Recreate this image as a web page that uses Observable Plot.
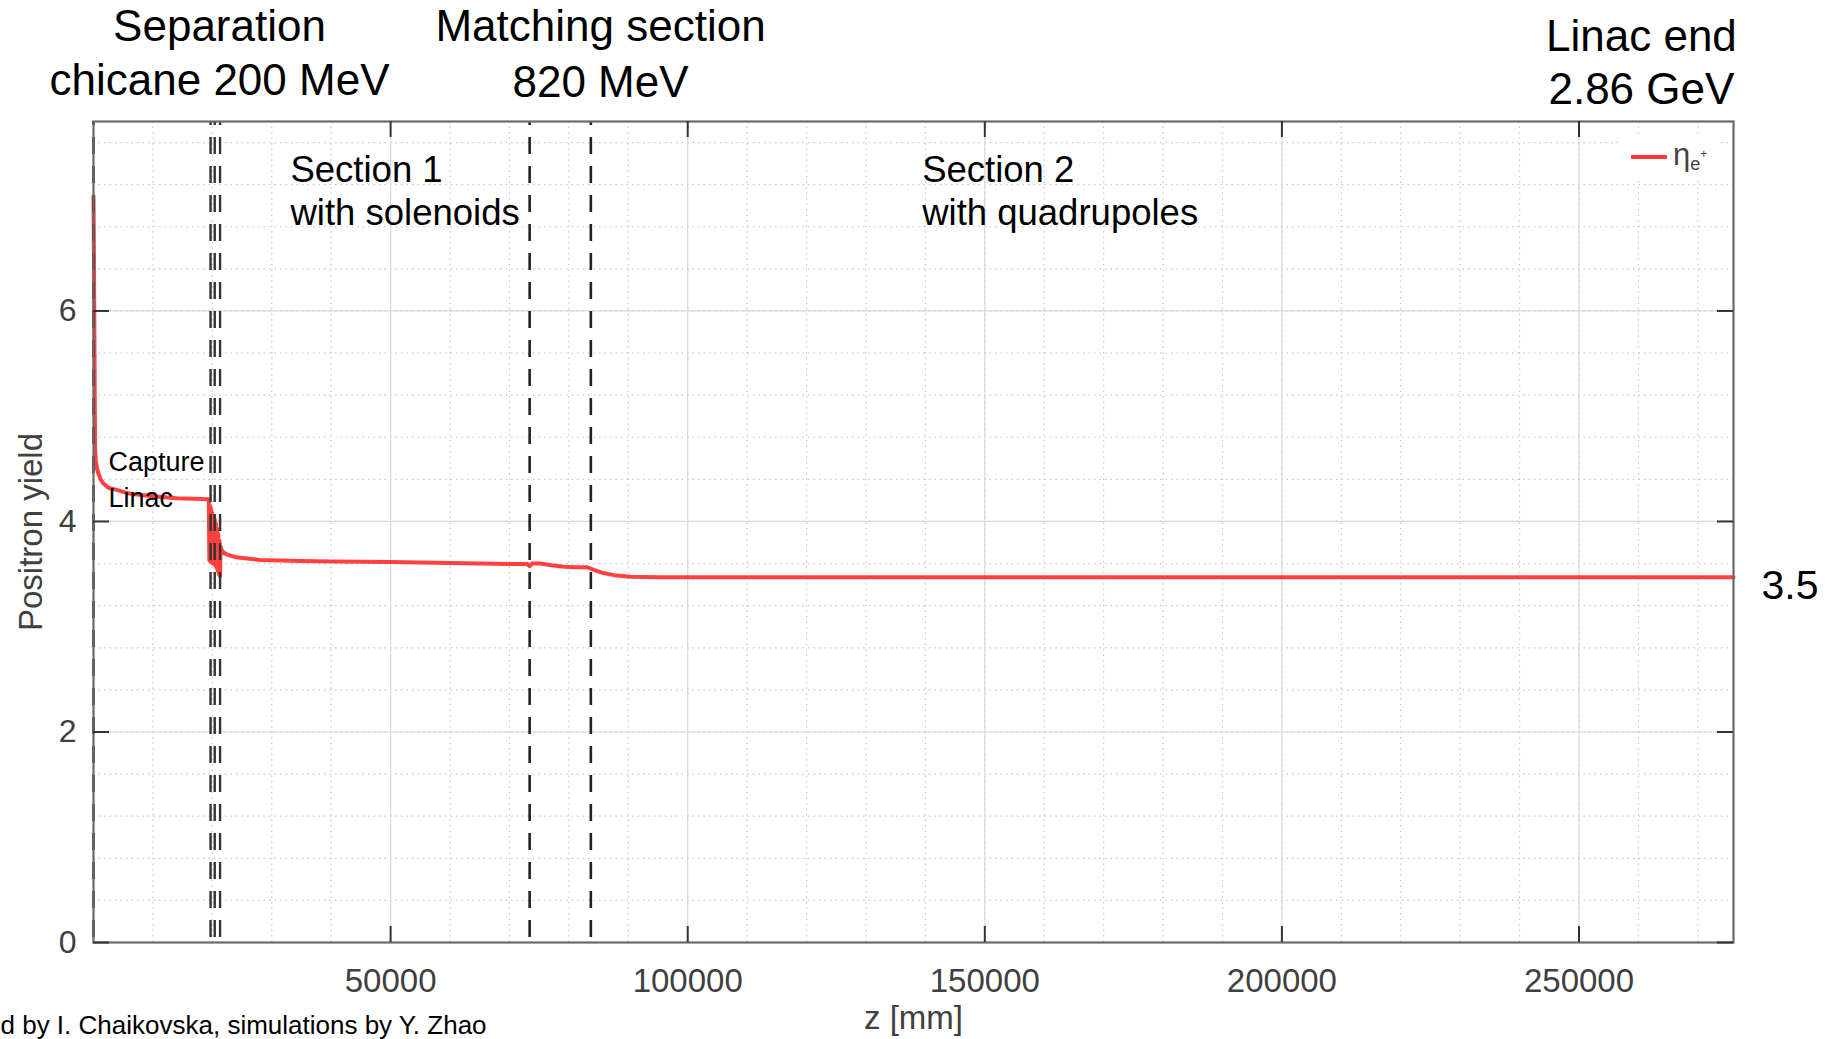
<!DOCTYPE html>
<html>
<head>
<meta charset="utf-8">
<script src="https://cdn.jsdelivr.net/npm/d3@7"></script>
<script src="https://cdn.jsdelivr.net/npm/@observablehq/plot@0.6"></script>
<style>
  html, body { margin: 0; padding: 0; background: #fff; overflow: hidden; }
  #chart svg { display: block; }
</style>
</head>
<body>
<div id="chart"></div>
<script>
// ---- data ----
const zPos = [0, 80, 150, 220, 270, 400, 600, 830, 1200, 1670, 2500, 3900, 6000, 8400, 11000, 14000, 17000, 19300,
  19400, 19500, 19600, 19700, 19800, 19900, 20000, 20100, 20200, 20300, 20400, 20500, 20600, 20700, 20800, 20900,
  21000, 21100, 21200, 21300, 21400, 21550, 21800, 22300, 23000, 24000, 25500, 28000, 35000, 40000, 50000, 60000,
  65000, 70000, 73000, 73400, 73800, 75200, 77000, 79200, 81000, 83100, 84200, 85800, 87600, 90400, 95000, 98800,
  120000, 150000, 200000, 250000, 276000];
const yieldVals = [7.09, 6.5, 5.8, 5.1, 4.68, 4.58, 4.5, 4.455, 4.40, 4.36, 4.32, 4.30, 4.265, 4.25, 4.235, 4.22, 4.215, 4.21,
  4.21, 3.63, 4.15, 3.62, 4.12, 3.61, 4.08, 3.60, 4.05, 3.60, 4.02, 3.58, 3.98, 3.56, 3.93, 3.53,
  3.88, 3.50, 3.82, 3.48, 3.76, 3.73, 3.71, 3.69, 3.675, 3.66, 3.65, 3.635, 3.625, 3.62, 3.615, 3.605,
  3.60, 3.595, 3.595, 3.575, 3.60, 3.60, 3.585, 3.57, 3.565, 3.565, 3.54, 3.51, 3.49, 3.475, 3.47, 3.47,
  3.47, 3.47, 3.47, 3.47, 3.47];
const xTicks = [50000, 100000, 150000, 200000, 250000];
const yTicks = [0, 2, 4, 6];
const xMinor = d3.range(10000, 276000, 10000);
const yMinor = d3.range(0.4, 7.8, 0.4);
const sectionLines = [0, 73400, 83700];
const chicaneLines = [19700, 20400, 21300];
const xDomain = [0, 276000];
const yDomain = [0, 7.8];

const data = zPos.map((z, i) => ({z, v: yieldVals[i]}));
const lastVal = yieldVals[yieldVals.length - 1];

const W = 1843, H = 1039;
const mL = 93, mR = 110, mT = 121, mB = 97;
const innerW = W - mL - mR, innerH = H - mT - mB;
const FONT = "'Liberation Sans', Arial, sans-serif";

const ann = (txt, x, dy, size, anchor = "middle") =>
  Plot.text([txt], {x: () => x, frameAnchor: "top", dy, fontSize: size, fill: "#000",
    textAnchor: anchor, lineAnchor: "middle"});

const plot = Plot.plot({
  width: W,
  height: H,
  marginLeft: mL, marginRight: mR, marginTop: mT, marginBottom: mB,
  style: {fontFamily: FONT, background: "#fff", overflow: "visible"},
  x: {domain: xDomain, axis: null},
  y: {domain: yDomain, axis: null},
  marks: [
    // minor dotted grid
    Plot.ruleX(xMinor, {x: d => d, stroke: "#c8c8c8", strokeWidth: 1.2, strokeDasharray: "1.5,4"}),
    Plot.ruleY(yMinor, {y: d => d, stroke: "#c8c8c8", strokeWidth: 1.2, strokeDasharray: "1.5,4"}),
    // major grid
    Plot.ruleX(xTicks, {x: d => d, stroke: "#dadada", strokeWidth: 1.2}),
    Plot.ruleY(yTicks, {y: d => d, stroke: "#dadada", strokeWidth: 1.2}),
    // yield curve
    Plot.line(data, {x: "z", y: "v", stroke: "#ff2020", strokeWidth: 4, strokeOpacity: 0.85}),
    // dashed section boundaries
    Plot.ruleX(sectionLines, {x: d => d, stroke: "#222", strokeWidth: 2.6, strokeDasharray: "17,12", strokeDashoffset: 13}),
    Plot.ruleX(chicaneLines, {x: d => d, stroke: "#333", strokeWidth: 2.4, strokeDasharray: "17,12", strokeDashoffset: 13}),
    // frame
    Plot.frame({stroke: "#6a6a6a", strokeWidth: 2.2}),
    // inward ticks
    Plot.ruleY(yTicks, {y: d => d, insetRight: innerW - 16, stroke: "#333", strokeWidth: 2}),
    Plot.ruleY(yTicks, {y: d => d, insetLeft: innerW - 16, stroke: "#333", strokeWidth: 2}),
    Plot.ruleX(xTicks, {x: d => d, insetTop: innerH - 16, stroke: "#333", strokeWidth: 2}),
    Plot.ruleX(xTicks, {x: d => d, insetBottom: innerH - 16, stroke: "#333", strokeWidth: 2}),
    // axes
    Plot.axisX(xTicks, {tickSize: 0, tickPadding: 26, fontSize: 33, color: "#404040", label: null, tickFormat: d3.format("d")}),
    Plot.axisY(yTicks, {tickSize: 0, tickPadding: 17, fontSize: 32, color: "#404040", label: null, tickFormat: d3.format("d")}),
    // axis titles
    Plot.text(["z [mm]"], {frameAnchor: "bottom", dy: 76, fontSize: 33, fill: "#404040", lineAnchor: "middle", textAnchor: "middle"}),
    Plot.text(["Positron yield"], {frameAnchor: "left", dx: -62, rotate: -90, fontSize: 33, fill: "#404040", lineAnchor: "middle", textAnchor: "middle"}),
    // top annotations
    ann("Separation", 21205, -95, 44),
    ann("chicane 200 MeV", 21205, -41, 44),
    ann("Matching section", 85325, -95, 44),
    ann("820 MeV", 85325, -39, 44),
    ann("Linac end", 260500, -85, 44),
    ann("2.86 GeV", 260500, -32, 44),
    // in-plot annotations
    ann("Section 1", 33150, 49, 36.5, "start"),
    ann("with solenoids", 33150, 92, 36.5, "start"),
    ann("Section 2", 139460, 49, 36.5, "start"),
    ann("with quadrupoles", 139460, 92, 36.5, "start"),
    ann("Capture", 2524, 340.7, 27, "start"),
    ann("Linac", 2524, 376.7, 27, "start"),
    // final value label
    Plot.text([lastVal], {x: () => xDomain[1], y: d => d, text: () => "3.5", dx: 28, dy: 8.5, textAnchor: "start", lineAnchor: "middle", fontSize: 41, fill: "#000"}),
    // caption (bottom-left)
    Plot.text(["d by I. Chaikovska, simulations by Y. Zhao"], {frameAnchor: "bottom-left", dx: -mL, dy: 83, textAnchor: "start", lineAnchor: "middle", fontSize: 26, fill: "#000"})
  ]
});

// legend (inside the frame, top-right)
const svg = d3.select(plot);
const lg = svg.append("g").attr("font-family", FONT).attr("text-anchor", "start");
lg.append("rect").attr("x", 1620).attr("y", 135).attr("width", 97).attr("height", 45).attr("fill", "#fff");
lg.append("line").attr("x1", 1631).attr("x2", 1667).attr("y1", 157).attr("y2", 157)
  .attr("stroke", "#ff2020").attr("stroke-width", 3.8).attr("stroke-opacity", 0.9);
const lt = lg.append("text").attr("x", 1673).attr("y", 165).attr("fill", "#444").attr("font-size", 31).attr("text-anchor", "start");
lt.append("tspan").text("η");
lt.append("tspan").attr("font-size", 18).attr("dy", 5).text("e");
lt.append("tspan").attr("font-size", 12).attr("dy", -12).text("+");

document.getElementById("chart").appendChild(plot);
</script>
</body>
</html>
